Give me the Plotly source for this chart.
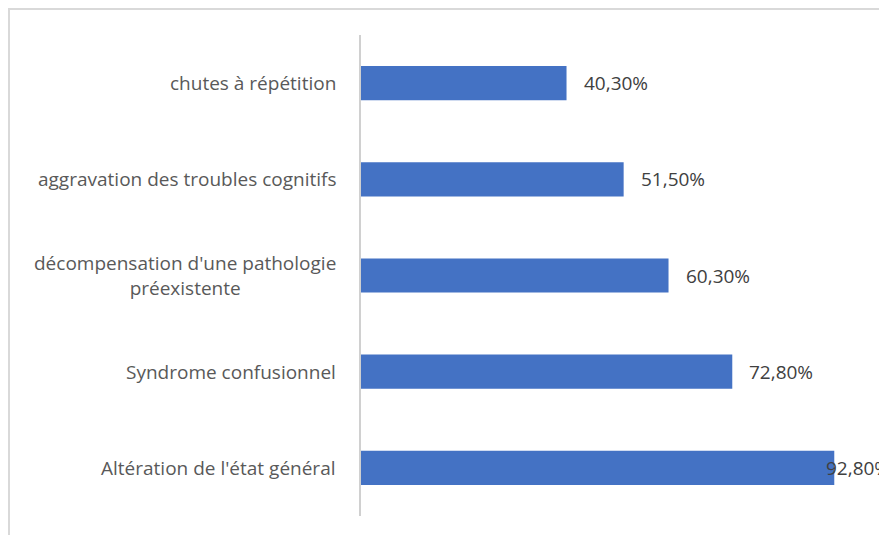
import plotly.graph_objects as go

categories = ["chutes à répétition", "aggravation des troubles cognitifs",
              "décompensation d'une pathologie<br>préexistente",
              "Syndrome confusionnel", "Altération de l'état général"]
values = [40.3, 51.5, 60.3, 72.8, 92.8]
value_labels = ["40,30%", "51,50%", "60,30%", "72,80%", "92,80%"]

# page body has an 8px margin: positions below are shifted by -8px
OFF = 8
W, H = 887, 535
L, T = 361 - OFF, 35 - OFF
R = W - (871 - OFF)
B = H - (516 - OFF)

fig = go.Figure()
fig.add_trace(go.Bar(
    y=categories, x=values, orientation="h",
    marker=dict(color="#4472C4", line=dict(width=0)),
    width=0.355, hoverinfo="skip",
))

font_family = "Open Sans, Noto Sans, sans-serif"
annotations = []
for c, v, t in zip(categories, values, value_labels):
    annotations.append(dict(
        x=0, y=c, xref="x", yref="y", text=c, showarrow=False,
        xanchor="right", yanchor="middle", align="center", xshift=-23,
        font=dict(family=font_family, size=19, color="#595959"),
    ))
    shift = 15 if v < 90 else -10
    annotations.append(dict(
        x=v, y=c, xref="x", yref="y", text=t, showarrow=False,
        xanchor="left", yanchor="middle", xshift=shift,
        font=dict(family=font_family, size=19, color="#404040"),
    ))

pw = W - L - R
ph = H - T - B
fx = (9 - OFF - L) / pw
fy = 1 + (T - (8 - OFF)) / ph

fig.update_layout(
    width=W, height=H,
    margin=dict(l=L, r=R, t=T, b=B),
    paper_bgcolor="white", plot_bgcolor="white",
    showlegend=False,
    xaxis=dict(range=[0, 100], showgrid=False, showticklabels=False,
               zeroline=False, showline=False, ticks=""),
    yaxis=dict(autorange="reversed", showticklabels=False, showgrid=False,
               zeroline=False, showline=True, linecolor="#d0d0d0", linewidth=1.5,
               ticks=""),
    annotations=annotations,
    shapes=[
        dict(type="line", xref="paper", yref="paper",
             x0=fx, x1=1.2, y0=fy - 0.002, y1=fy - 0.002,
             line=dict(color="#d9d9d9", width=2)),
        dict(type="line", xref="paper", yref="paper",
             x0=fx, x1=fx, y0=fy, y1=-0.2,
             line=dict(color="#d9d9d9", width=2)),
    ],
)

fig.write_html("out.html")
